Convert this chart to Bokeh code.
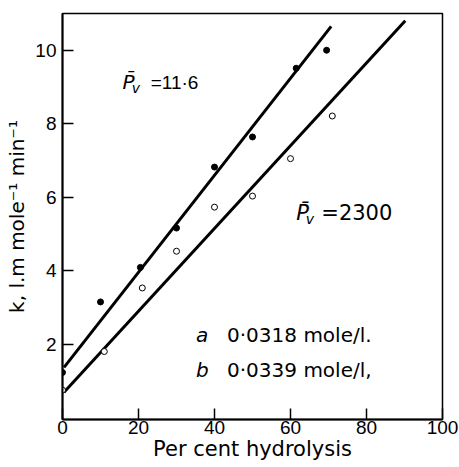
import math
from bokeh.plotting import figure
from bokeh.models import Range1d, FixedTicker, Label
from bokeh.embed import file_html
from bokeh.resources import INLINE

# ---- data ----
pct_a = [0, 10, 20.5, 30, 40, 50, 61.5, 69.5]
k_a = [1.23, 3.15, 4.09, 5.16, 6.82, 7.64, 9.51, 10.0]
pct_b = [0, 11, 21, 30, 40, 50, 60, 71]
k_b = [0.75, 1.80, 3.53, 4.53, 5.73, 6.03, 7.05, 8.21]

fit_a_x = [0.4, 70.7]
fit_a_y = [1.37, 10.65]
fit_b_x = [0.4, 90.2]
fit_b_y = [0.69, 10.8]

x_ticks = [0, 20, 40, 60, 80, 100]
y_ticks = [2, 4, 6, 8, 10]

p = figure(width=459, height=467, x_range=Range1d(0, 100), y_range=Range1d(-0.05, 11.0),
           output_backend="svg", toolbar_location=None,
           min_border_left=62, min_border_right=17, min_border_top=13, min_border_bottom=48)

p.xgrid.visible = False
p.ygrid.visible = False
p.outline_line_color = "black"
p.outline_line_width = 1.5
p.outline_line_alpha = 1.0
p.background_fill_color = "white"
p.border_fill_color = "white"

p.xaxis.ticker = FixedTicker(ticks=x_ticks)
p.yaxis.ticker = FixedTicker(ticks=y_ticks)
for ax in (p.xaxis, p.yaxis):
    ax.major_tick_in = 11
    ax.major_tick_out = 0
    ax.minor_tick_line_color = None
    ax.axis_line_width = 2
    ax.axis_line_color = "black"
    ax.major_tick_line_width = 1.5
    ax.major_tick_line_color = "black"
    ax.major_label_text_font = "Liberation Sans"
    ax.major_label_text_font_size = "19px"
    ax.major_label_text_color = "black"
    ax.axis_label_text_font = "DejaVu Sans"
    ax.axis_label_text_font_style = "normal"
    ax.axis_label_text_color = "black"
p.xaxis.major_label_standoff = 1
p.yaxis.major_label_standoff = 6

p.xaxis.axis_label = "Per cent hydrolysis"
p.xaxis.axis_label_text_font_size = "21px"
p.xaxis.axis_label_standoff = 0

p.yaxis.axis_label = "k, l.m mole\u207b\u00b9 min\u207b\u00b9"
p.yaxis.axis_label_text_font_size = "20px"
p.yaxis.axis_label_standoff = 3

# fitted lines
p.line(fit_a_x, fit_a_y, line_color="black", line_width=3)
p.line(fit_b_x, fit_b_y, line_color="black", line_width=3)

# points
p.scatter(pct_a, k_a, marker="circle", size=6, fill_color="black", line_color="black")
p.scatter(pct_b, k_b, marker="circle", size=6, fill_color="white", line_color="black", line_width=1)

def lab(x, y, text, size, font="DejaVu Sans", style="normal"):
    p.add_layout(Label(x=x, y=y, text=text, text_font=font, text_font_size=size,
                       text_font_style=style, text_color="black",
                       text_align="left", text_baseline="alphabetic"))

# P_v = 11.6
lab(15.8, 9.13, "P\u0304", "20px", style="italic")
lab(18.2, 8.96, "v", "14px", style="italic")
lab(23.2, 9.13, "=11\u00b76", "19px", font="Liberation Sans")

# P_v = 2300
lab(61.5, 5.56, "P\u0304", "21px", style="italic")
lab(64.0, 5.40, "v", "14px", style="italic")
lab(68.1, 5.56, "=2300", "21px")

# legend text
lab(35.1, 2.24, "a", "20px", style="italic")
lab(43.3, 2.24, "0\u00b70318  mole/l.", "20px")
lab(35.1, 1.29, "b", "20px", style="italic")
lab(43.3, 1.29, "0\u00b70339 mole/l,", "20px")

open("out.html", "w").write(file_html(p, INLINE))
